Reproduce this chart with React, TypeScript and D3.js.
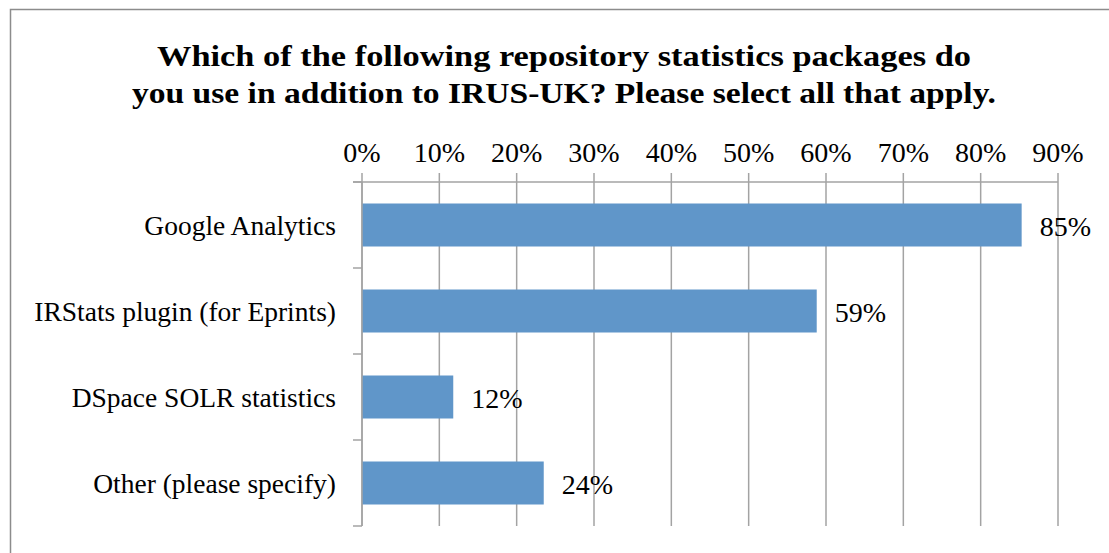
import React from "react";
import * as d3 from "d3";

const categories = [
  "Google Analytics",
  "IRStats plugin (for Eprints)",
  "DSpace SOLR statistics",
  "Other (please specify)",
];
const values = [0.853, 0.588, 0.118, 0.235];
const xTicks = [0, 0.1, 0.2, 0.3, 0.4, 0.5, 0.6, 0.7, 0.8, 0.9];
const titleLines = [
  "Which of the following repository statistics packages do",
  "you use in addition to IRUS-UK? Please select all that apply.",
];
const titleWidths = [814, 864];

const W = 1109;
const H = 553;
const FONT = "'Liberation Serif', 'Times New Roman', serif";

export default function App() {
  const x = d3.scaleLinear().domain([0, 0.9]).range([362, 1058]);
  const y = d3
    .scaleBand<string>()
    .domain(categories)
    .range([182, 526])
    .paddingInner(0.5)
    .paddingOuter(0.25);
  const fmt = d3.format(".0%");
  const step = y.step();
  const gridColor = "#a3a3a3";
  const boundaries = d3.range(categories.length + 1).map((i) => 182 + i * step);

  return (
    <svg
      width={W}
      height={H}
      style={{ position: "absolute", left: 0, top: 0, background: "#fff" }}
      fontFamily={FONT}
    >
      <rect x={0} y={0} width={W} height={H} fill="#fff" />
      <path d={`M10.5,${H} V9.5 H${W}`} fill="none" stroke="#8c8c8c" strokeWidth={1.5} />
      {titleLines.map((t, i) => (
        <text
          key={i}
          x={564}
          y={66 + i * 37}
          textAnchor="middle"
          fontSize={29.5}
          fontWeight="bold"
          fill="#000"
          textLength={titleWidths[i]}
          lengthAdjust="spacingAndGlyphs"
        >
          {t}
        </text>
      ))}
      {/* gridlines */}
      {xTicks.map((t) => (
        <line
          key={t}
          x1={x(t)}
          x2={x(t)}
          y1={173}
          y2={526}
          stroke={gridColor}
          strokeWidth={1.5}
        />
      ))}
      {/* top axis line */}
      <line x1={353} x2={x(0.9)} y1={182} y2={182} stroke={gridColor} strokeWidth={1.5} />
      {/* left axis ticks */}
      {boundaries.map((b, i) => (
        <line key={i} x1={353} x2={x(0)} y1={b} y2={b} stroke={gridColor} strokeWidth={1.5} />
      ))}
      {xTicks.map((t) => (
        <text key={t} x={x(t)} y={162} textAnchor="middle" fontSize={28} fill="#000">
          {fmt(t)}
        </text>
      ))}
      {categories.map((c, i) => {
        const yc = (y(c) as number) + y.bandwidth() / 2;
        return (
          <g key={c}>
            <rect
              x={x(0)}
              y={y(c)}
              width={x(values[i]) - x(0)}
              height={y.bandwidth()}
              fill="#6096c9"
            />
            <text x={336} y={yc + 10} textAnchor="end" fontSize={27.5} fill="#000">
              {c}
            </text>
            <text x={x(values[i]) + 18} y={yc + 11} fontSize={28} fill="#000">
              {fmt(values[i])}
            </text>
          </g>
        );
      })}
      {/* left axis line */}
      <line x1={x(0)} x2={x(0)} y1={182} y2={526} stroke={gridColor} strokeWidth={1.5} />
    </svg>
  );
}
